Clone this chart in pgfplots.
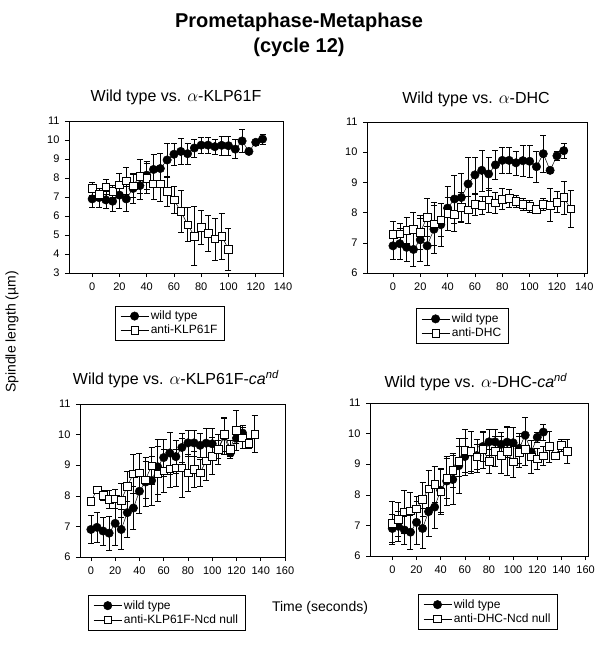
\documentclass[border=0pt]{standalone}
\usepackage{fontspec}
\setmainfont{Liberation Sans}
\usepackage{pgfplots}
\usepackage{pgfplotstable}
\pgfplotsset{compat=1.18}

\pgfplotstableread{
x y e
0 6.90 0.45
5 6.97 0.50
10 6.85 0.45
15 6.78 0.55
20 7.10 0.70
25 6.90 0.65
30 7.45 0.80
35 7.60 0.70
40 8.15 0.72
45 8.45 0.80
50 8.50 0.80
55 8.95 0.90
60 9.25 0.60
65 9.40 0.68
70 9.28 0.55
75 9.58 0.48
80 9.73 0.42
85 9.73 0.42
90 9.65 0.40
95 9.72 0.50
100 9.70 0.52
105 9.52 0.50
110 9.95 0.60
115 9.40 0.10
120 9.88 0.15
125 10.05 0.25
}\wt

\pgfplotstableread{
x y e
0 7.45 0.35
5 7.15 0.30
10 7.55 0.40
15 7.30 0.30
20 7.65 0.60
25 7.85 0.70
30 7.60 0.60
35 8.10 0.90
40 8.00 0.80
45 7.70 0.80
50 7.70 0.90
55 7.30 0.80
60 6.85 0.70
65 6.25 1.10
70 5.55 0.90
75 4.95 1.55
80 5.40 0.90
85 5.10 0.95
90 4.80 1.10
95 4.95 1.20
100 4.25 1.10
}\aone

\pgfplotstableread{
x y e
0 7.28 0.45
5 7.30 0.35
10 7.42 0.42
15 7.45 0.58
20 7.35 0.55
25 7.85 0.62
30 7.63 0.70
35 7.77 0.55
40 7.97 0.55
45 7.95 0.55
50 8.18 0.50
55 8.10 0.45
60 8.27 0.35
65 8.25 0.30
70 8.42 0.40
75 8.33 0.35
80 8.45 0.35
85 8.47 0.30
90 8.37 0.20
95 8.27 0.20
100 8.22 0.20
105 8.12 0.08
110 8.27 0.20
115 8.25 0.55
120 8.35 0.35
125 8.50 0.55
130 8.13 0.62
}\atwo

\pgfplotstableread{
x y e
0 7.82 0.12
5 8.20 0.10
10 8.02 0.15
15 7.88 0.30
20 7.90 0.30
25 7.85 0.55
30 8.32 0.50
35 8.72 0.65
40 8.75 0.65
45 8.53 0.60
50 8.98 0.60
55 8.72 0.90
60 8.82 0.70
65 8.88 0.60
70 8.92 0.60
75 8.92 0.95
80 8.75 0.60
85 8.87 0.60
90 8.75 0.45
95 9.15 0.65
100 9.30 0.60
105 9.52 0.30
110 10.02 0.55
115 9.52 0.30
120 10.15 0.65
125 9.90 0.35
130 9.72 0.15
135 10.02 0.60
}\athree

\pgfplotstableread{
x y e
0 7.08 0.70
5 7.20 0.55
10 7.45 0.70
15 7.48 0.60
20 7.55 0.40
25 7.85 0.55
30 8.20 0.60
35 8.35 0.60
40 8.10 0.75
45 8.55 0.65
50 8.80 0.55
55 9.10 0.50
60 9.45 0.70
65 9.42 0.65
70 9.25 0.40
75 9.48 0.60
80 9.10 0.40
85 9.43 0.50
90 9.30 0.60
95 9.43 0.80
100 9.08 0.50
105 9.40 0.50
110 9.48 0.50
115 9.25 0.55
120 9.18 0.35
125 9.28 0.30
130 9.58 0.50
135 9.28 0.10
140 9.62 0.20
145 9.42 0.40
}\afour

\pgfplotsset{
  panel/.style={
    scale only axis, anchor=south west,
    axis line style={line width=0.6pt},
    tick align=outside, xtick pos=lower, ytick pos=left,
    major tick length=4pt,
    tick style={black, line width=0.6pt},
    tick label style={font=\fontsize{11}{13}\selectfont},
    xticklabel style={yshift=-2pt},
    yticklabel style={xshift=-2pt},
    /pgf/number format/assume math mode=true,
    legend style={draw=black, line width=0.6pt, font=\fontsize{12}{14}\selectfont,
      legend cell align=left, inner xsep=5pt, inner ysep=3pt, row sep=0pt},
    legend image code/.code={\draw[mark repeat=2,mark phase=2,#1] plot coordinates {(0pt,0pt) (14pt,0pt) (28pt,0pt)};},
  },
  wt/.style={black, line width=0.5pt, mark=*, mark size=4.2pt, mark options={fill=black, solid},
    error bars/.cd, y dir=both, y explicit,
    error bar style={line width=0.4pt, black},
    error mark options={rotate=90, mark size=3pt, line width=0.4pt, black}},
  sq/.style={black, line width=0.5pt, mark=square*, mark size=3.8pt, mark options={fill=white, solid},
    error bars/.cd, y dir=both, y explicit,
    error bar style={line width=0.4pt, black},
    error mark options={rotate=90, mark size=3pt, line width=0.4pt, black}},
}

\begin{document}
\begin{tikzpicture}
\useasboundingbox (0pt,0pt) rectangle (597pt,-646pt);

\node[font=\bfseries\fontsize{20}{25}\selectfont, align=center] at (299pt,-35pt) {Prometaphase-Metaphase\\(cycle 12)};

\node[font=\fontsize{16}{18}\selectfont] at (176pt,-97pt) {Wild type vs. $\alpha$-KLP61F};
\node[font=\fontsize{16}{18}\selectfont] at (476pt,-99pt) {Wild type vs. $\alpha$-DHC};
\node[font=\fontsize{16}{18}\selectfont] at (176pt,-379pt) {Wild type vs. $\alpha$-KLP61F-\textit{ca}\textsuperscript{\textit{nd}}};
\node[font=\fontsize{16}{18}\selectfont] at (476pt,-382pt) {Wild type vs. $\alpha$-DHC-\textit{ca}\textsuperscript{\textit{nd}}};

\node[font=\fontsize{14}{16}\selectfont, rotate=90] at (12pt,-332pt) {Spindle length (µm)};
\node[font=\fontsize{14}{16}\selectfont] at (320pt,-608pt) {Time (seconds)};

% Panel 1
\begin{axis}[panel, at={(69pt,-273pt)}, width=214pt, height=152pt,
  xmin=-17, xmax=140, ymin=3, ymax=11,
  xtick={0,20,...,140}, ytick={3,4,...,11},
  legend style={at={(0.215,-0.215)}, anchor=north west}]
\addplot[wt] table[x=x,y=y,y error=e]{\wt};
\addplot[sq] table[x=x,y=y,y error=e]{\aone};
\legend{wild type, anti-KLP61F}
\end{axis}

% Panel 2
\begin{axis}[panel, at={(367pt,-273pt)}, width=220pt, height=151pt,
  xmin=-19, xmax=142, ymin=6, ymax=11,
  xtick={0,20,...,140}, ytick={6,7,...,11},
  legend style={at={(0.223,-0.235)}, anchor=north west}]
\addplot[wt] table[x=x,y=y,y error=e]{\wt};
\addplot[sq] table[x=x,y=y,y error=e]{\atwo};
\legend{wild type, anti-DHC}
\end{axis}

% Panel 3
\begin{axis}[panel, at={(80pt,-557pt)}, width=205pt, height=153pt,
  xmin=-9, xmax=160, ymin=6, ymax=11,
  xtick={0,20,...,160}, ytick={6,7,...,11},
  legend style={at={(0.04,-0.25)}, anchor=north west}]
\addplot[wt] table[x=x,y=y,y error=e]{\wt};
\addplot[sq] table[x=x,y=y,y error=e]{\athree};
\legend{wild type, anti-KLP61F-Ncd null}
\end{axis}

% Panel 4
\begin{axis}[panel, at={(370pt,-556pt)}, width=218pt, height=153pt,
  xmin=-18.5, xmax=162, ymin=6, ymax=11,
  xtick={0,20,...,160}, ytick={6,7,...,11},
  legend style={at={(0.22,-0.25)}, anchor=north west}]
\addplot[wt] table[x=x,y=y,y error=e]{\wt};
\addplot[sq] table[x=x,y=y,y error=e]{\afour};
\legend{wild type, anti-DHC-Ncd null}
\end{axis}
\end{tikzpicture}
\end{document}
